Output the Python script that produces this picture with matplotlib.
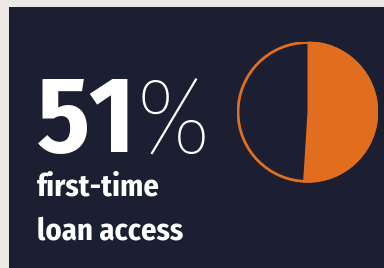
import matplotlib
matplotlib.use("Agg")
import matplotlib.pyplot as plt
from matplotlib.patches import Rectangle, Circle

# data
share = [51, 49]
big_value = "51"
big_unit = "%"
caption = ["first-time", "loan access"]

bg = "#ece9e4"
panel = "#1c1f31"
orange = "#e16e1f"
cond = ["Fira Sans Condensed", "Roboto Condensed", "DejaVu Sans"]
thin = ["Fira Sans Condensed", "Fira Sans", "Roboto", "DejaVu Sans"]

W, H = 384, 268
fig = plt.figure(figsize=(W / 100, H / 100), dpi=100)
fig.patch.set_facecolor(bg)
fig.patches.append(Rectangle((9 / W, 0), 1, 1 - 7 / H, transform=fig.transFigure,
                             facecolor=panel, edgecolor="none", zorder=-1))

# pie
cx, cy, r = 307.5, 112, 70.5
ax = fig.add_axes([(cx - r) / W, (H - cy - r) / H, 2 * r / W, 2 * r / H])
ax.pie(share, colors=[orange, "none"], startangle=90, counterclock=False,
       radius=1, wedgeprops=dict(linewidth=0))
ax.add_patch(Circle((0, 0), 0.985, facecolor="none", edgecolor=orange, lw=2))
ax.set_xlim(-1, 1)
ax.set_ylim(-1, 1)
ax.axis("off")


def px(x, y):
    return x / W, 1 - y / H


fig.text(*px(37, 152), big_value, fontsize=78, fontweight="bold", family=cond,
         color="white", va="baseline", ha="left")
fig.text(*px(136, 153), big_unit, fontsize=78, fontweight=100, family=thin,
         color="white", va="baseline", ha="left")
fig.text(*px(37, 195), caption[0], fontsize=22, fontweight="bold", family=cond,
         color="white", va="baseline", ha="left")
fig.text(*px(37, 239), caption[1], fontsize=22, fontweight="bold", family=cond,
         color="white", va="baseline", ha="left")

fig.savefig("out.png", dpi=100, facecolor=bg)
